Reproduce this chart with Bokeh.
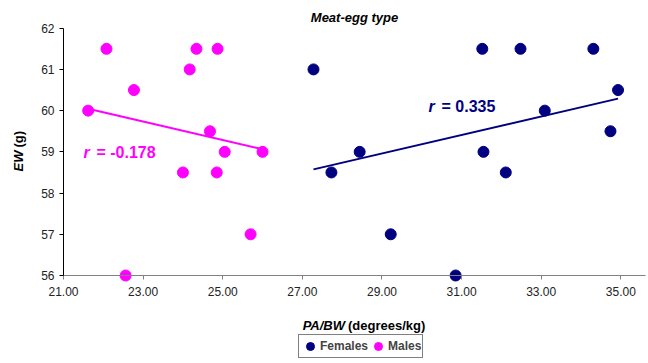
import numpy as np
from bokeh.plotting import figure
from bokeh.models import (Range1d, FixedTicker, Label, Legend, LegendItem,
                          LinearAxis, NumeralTickFormatter)
from bokeh.embed import file_html
from bokeh.resources import INLINE

# ---- data ----
female_x = [27.28, 27.73, 28.44, 31.52, 32.48, 34.31, 34.93, 33.09, 34.74, 31.55, 32.11, 29.22, 30.85]
female_y = [61.0, 58.5, 59.0, 61.5, 61.5, 61.5, 60.5, 60.0, 59.5, 59.0, 58.5, 57.0, 56.0]
male_x = [22.08, 24.34, 24.87, 24.17, 22.77, 21.62, 24.68, 25.05, 26.00, 24.00, 24.85, 25.70, 22.56]
male_y = [61.5, 61.5, 61.5, 61.0, 60.5, 60.0, 59.5, 59.0, 59.0, 58.5, 58.5, 57.0, 56.0]
x_ticks = [21, 23, 25, 27, 29, 31, 33, 35]
y_ticks = [56, 57, 58, 59, 60, 61, 62]
female_r = "0.335"
male_r = "-0.178"

NAVY = "#000080"
MAG = "#FF00FF"
FONT = "Liberation Sans"

W, H = 648, 363
# plot-area geometry in canvas pixels
FL, FR, FT, FB = 63.0, 645.0, 27.7, 275.0
AX0, AX1 = 21.0, 35.62      # x axis extent
AY0, AY1 = 56.0, 62.0       # y axis extent
sx = (FR - FL) / (AX1 - AX0)
sy = (FB - FT) / (AY1 - AY0)
XA, XB = AX0 - FL / sx, AX0 + (W - FL) / sx
YB, YA = AY0 + FB / sy, AY0 - (H - FB) / sy

p = figure(width=W, height=H, output_backend="svg", toolbar_location=None,
           x_range=Range1d(XA, XB), y_range=Range1d(YA, YB),
           x_axis_type=None, y_axis_type=None,
           min_border_left=0, min_border_right=0, min_border_top=0, min_border_bottom=0)
p.outline_line_color = None
p.background_fill_color = "white"

def px2x(px):
    return XA + px / sx
def py2y(py):
    return YB - py / sy

# axes at fixed locations
xa = LinearAxis(fixed_location=AY0, bounds=(AX0, AX1))
xa.ticker = FixedTicker(ticks=x_ticks)
xa.formatter = NumeralTickFormatter(format="0.00")
xa.axis_line_color = "#808080"
xa.major_tick_line_color = "#808080"
xa.major_tick_in = 0
xa.major_tick_out = 4
xa.minor_tick_line_color = None
xa.major_label_text_font = FONT
xa.major_label_text_font_size = "12px"
xa.major_label_text_color = "#222222"
xa.major_label_standoff = 7
p.add_layout(xa, "below")

ya = LinearAxis(fixed_location=AX0, bounds=(AY0, AY1))
ya.ticker = FixedTicker(ticks=y_ticks)
ya.axis_line_color = "black"
ya.major_tick_line_color = "black"
ya.major_tick_in = 0
ya.major_tick_out = 4
ya.minor_tick_line_color = None
ya.major_label_text_font = FONT
ya.major_label_text_font_size = "12px"
ya.major_label_text_color = "#222222"
ya.major_label_standoff = 5
p.add_layout(ya, "left")

# trend lines
def trend(xs, ys):
    xs = np.asarray(xs); ys = np.asarray(ys)
    m, b = np.polyfit(xs, ys, 1)
    lx = np.array([xs.min(), xs.max()])
    return lx, m * lx + b

fx, fy = trend(female_x, female_y)
mx, my = trend(male_x, male_y)
p.line(fx, fy, line_color=NAVY, line_width=2)
p.line(mx, my, line_color=MAG, line_width=2)

rf = p.scatter(female_x, female_y, size=11, fill_color=NAVY, line_color=NAVY, marker="circle")
rm = p.scatter(male_x, male_y, size=11, fill_color=MAG, line_color=MAG, marker="circle")

def lab(x, y, text, size="12px", style="bold", color="black", align="left", baseline="middle", angle=0.0):
    p.add_layout(Label(x=x, y=y, text=text, text_font=FONT, text_font_size=size,
                       text_font_style=style, text_color=color, text_align=align,
                       text_baseline=baseline, angle=angle))

# title
lab(px2x(354), py2y(16.5), "Meat-egg type", size="13px", style="bold italic", align="center")
# x axis title
lab(px2x(344.5), py2y(325), "PA/BW", size="13px", style="bold italic", align="right")
lab(px2x(347.5), py2y(325), "(degrees/kg)", size="13px", style="bold", align="left")
# y axis title (rotated)
lab(px2x(17.5), py2y(171), "EW", size="13px", style="bold italic", align="left", angle=np.pi / 2)
lab(px2x(17.5), py2y(147), "(g)", size="13px", style="bold", align="left", angle=np.pi / 2)
# r annotations
lab(px2x(428), py2y(106), "r", size="16px", style="bold italic", color=NAVY)
lab(px2x(441), py2y(106), "= " + female_r, size="16px", style="bold", color=NAVY)
lab(px2x(83), py2y(151.7), "r", size="16px", style="bold italic", color=MAG)
lab(px2x(96), py2y(151.7), "= " + male_r, size="16px", style="bold", color=MAG)

legend = Legend(items=[LegendItem(label="Females", renderers=[rf]),
                       LegendItem(label="Males", renderers=[rm])],
                orientation="horizontal", location=(298, 5),
                border_line_color="black", border_line_width=1,
                background_fill_color="white", background_fill_alpha=1.0,
                label_text_font=FONT, label_text_font_size="12px",
                label_text_font_style="bold", label_standoff=0,
                glyph_width=20, glyph_height=20, label_height=12,
                padding=1, spacing=0, margin=0)
p.add_layout(legend)

open("out.html", "w").write(file_html(p, INLINE))
